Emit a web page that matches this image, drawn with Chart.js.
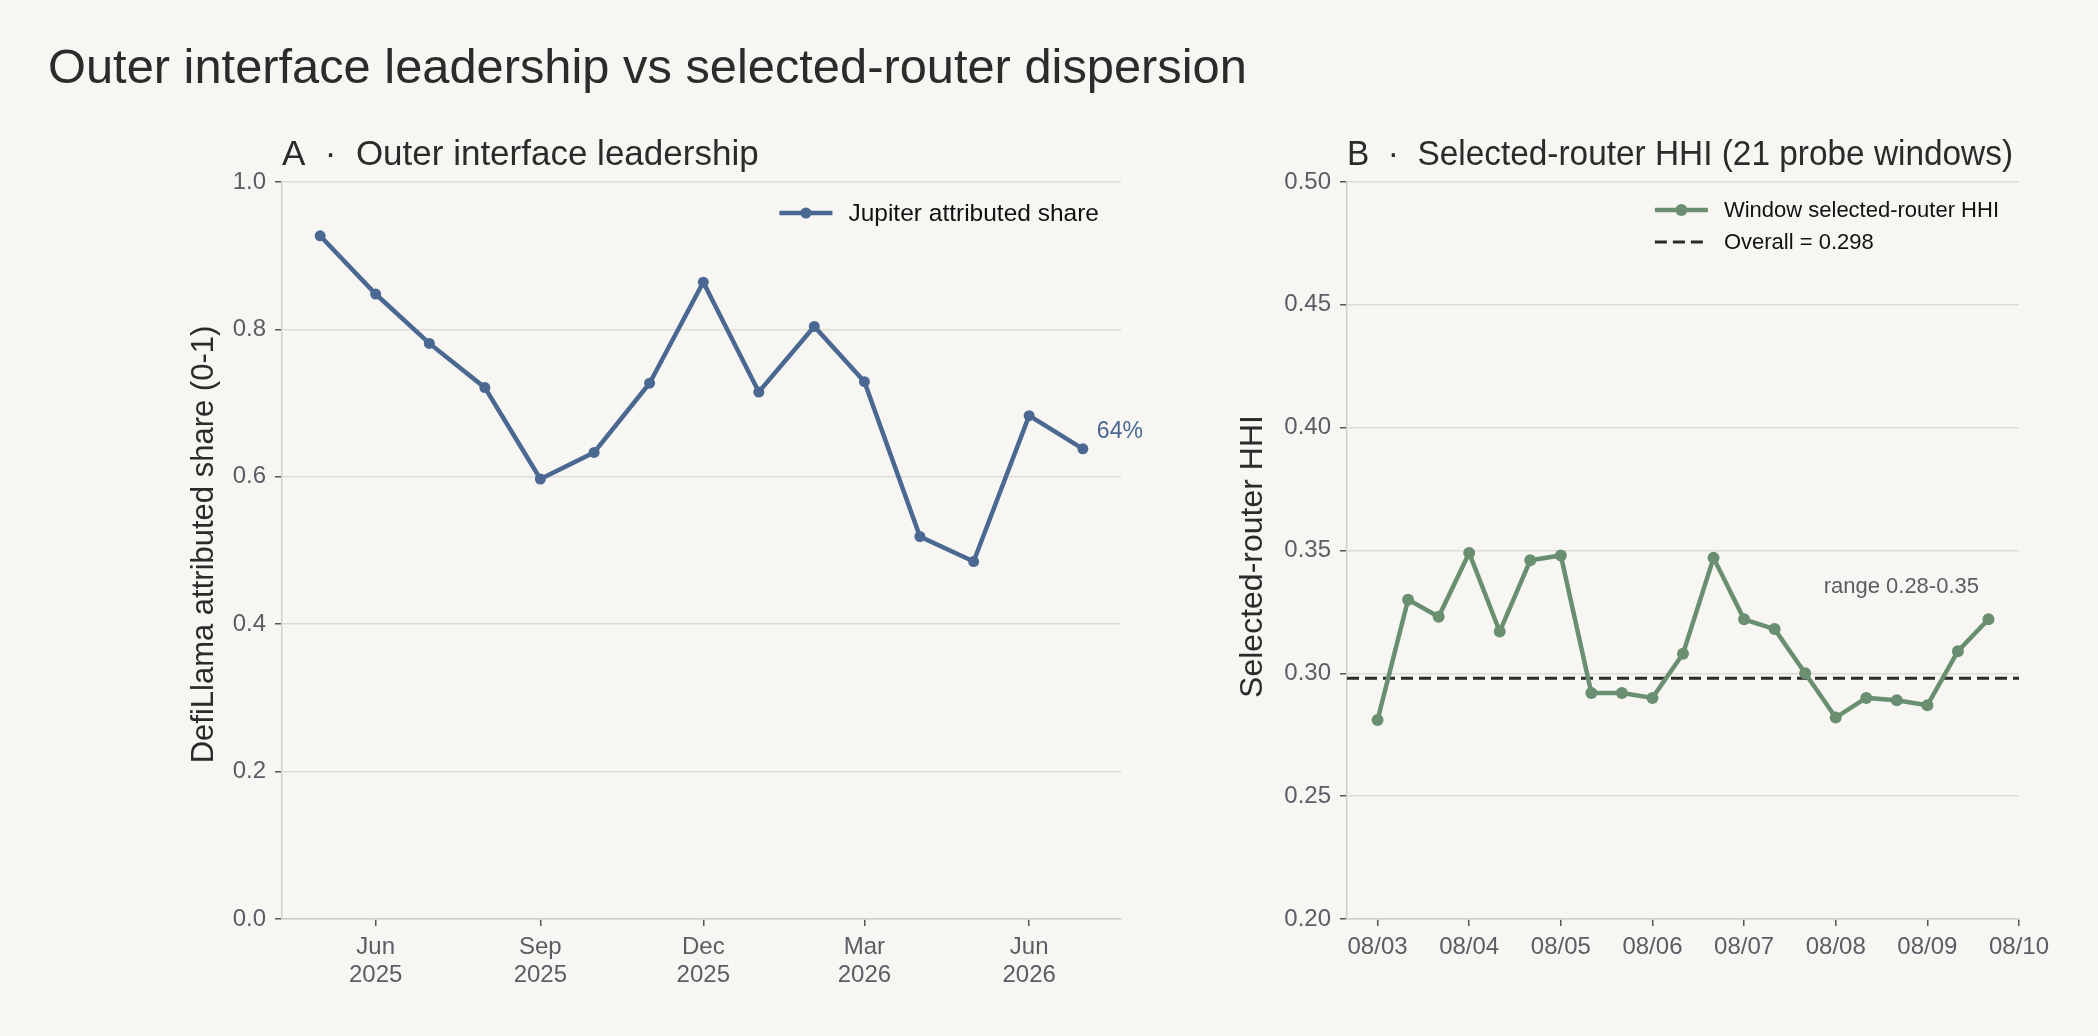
<!DOCTYPE html>
<html><head><meta charset="utf-8">
<script src="https://cdn.jsdelivr.net/npm/chart.js@4.4.1/dist/chart.umd.min.js"></script>
<style>
html,body{margin:0;padding:0;background:#f7f6f2;width:2098px;height:1036px;overflow:hidden;font-family:"Liberation Sans",Arial,sans-serif;}
#title{position:absolute;left:48px;top:42px;font-size:48.8px;line-height:48px;color:#2b2b2b;white-space:nowrap;}
canvas{position:absolute;}
#cA{left:0;top:100px;}
#cB{left:1200px;top:100px;}
</style></head><body>
<div id="title">Outer interface leadership vs selected-router dispersion</div>
<canvas id="cA" width="1200" height="936"></canvas>
<canvas id="cB" width="898" height="936"></canvas>
<script>
// ---- Panel A data ----
const months = ['2025-05','2025-06','2025-07','2025-08','2025-09','2025-10','2025-11','2025-12','2026-01','2026-02','2026-03','2026-04','2026-05','2026-06','2026-07'];
const jupiterShare = [0.927,0.848,0.781,0.721,0.597,0.633,0.727,0.864,0.715,0.804,0.729,0.519,0.485,0.683,0.638];
const monthTicks = ['2025-06','2025-09','2025-12','2026-03','2026-06'];
const monthTickLabels = [['Jun','2025'],['Sep','2025'],['Dec','2025'],['Mar','2026'],['Jun','2026']];
const shareTicks = [0,0.2,0.4,0.6,0.8,1.0];

// ---- Panel B data ----
const windowStarts = ['08/03 00:00','08/03 08:00','08/03 16:00','08/04 00:00','08/04 08:00','08/04 16:00','08/05 00:00',
  '08/05 08:00','08/05 16:00','08/06 00:00','08/06 08:00','08/06 16:00','08/07 00:00','08/07 08:00','08/07 16:00',
  '08/08 00:00','08/08 08:00','08/08 16:00','08/09 00:00','08/09 08:00','08/09 16:00'];
const windowHHI = [0.281,0.330,0.323,0.349,0.317,0.346,0.348,0.292,0.292,0.290,0.308,0.347,0.322,0.318,0.300,0.282,0.290,0.289,0.287,0.309,0.322];
const overallHHI = 0.298;
const dayTicks = ['08/03','08/04','08/05','08/06','08/07','08/08','08/09','08/10'];
const hhiTicks = [0.20,0.25,0.30,0.35,0.40,0.45,0.50];

const FONT = '"Liberation Sans", Arial, sans-serif';
const TEXT = '#2b2b2b', TICK = '#5c5c64', TICKMARK = '#55555a', SPINE = '#d2cfca', GRID = '#dedbd6';
const BLUE = '#4a6891', GREEN = '#6a8f70', DASH = '#2b2b2b';

function toMonthX(s){ const [y,m] = s.split('-').map(Number); return Date.UTC(y,m-1,1)/864e5; }
function dayX(md){ const [mo,d] = md.split('/').map(Number); return (Date.UTC(2025,mo-1,d) - Date.UTC(2025,7,3))/864e5; }
function toWindowX(s){ const [md,hm] = s.split(' '); const [h,mi] = hm.split(':').map(Number); return dayX(md) + h/24 + mi/1440; }

const axA = months.map(toMonthX);
const spanA = axA[axA.length-1]-axA[0];
const xMinA = axA[0]-0.05*spanA, xMaxA = axA[axA.length-1]+0.05*spanA;
const axB = windowStarts.map(toWindowX);
const spanB = axB[axB.length-1]-axB[0];
const xMinB = axB[0]-0.05*spanB, xMaxB = axB[axB.length-1]+0.05*spanB;

const panelPlugin = {
  id: 'panel',
  afterDraw(chart, args, opts){
    const ctx = chart.ctx, ca = chart.chartArea;
    ctx.save();
    // panel title
    ctx.fillStyle = TEXT; ctx.font = '35px ' + FONT; ctx.textBaseline = 'alphabetic'; ctx.textAlign = 'left';
    if (opts.titleMaxWidth) ctx.fillText(opts.title, ca.left, ca.top - 17, opts.titleMaxWidth);
    else ctx.fillText(opts.title, ca.left, ca.top - 17);
    // y-axis title
    ctx.save();
    ctx.translate(opts.yTitleX, (ca.top + ca.bottom)/2 + opts.yTitleDy);
    ctx.rotate(-Math.PI/2);
    ctx.fillStyle = TEXT; ctx.font = opts.yTitleSize + 'px ' + FONT; ctx.textAlign = 'center'; ctx.textBaseline = 'middle';
    ctx.fillText(opts.yTitle, 0, 0);
    ctx.restore();
    // legend
    ctx.font = opts.legendSize + 'px ' + FONT;
    const entries = chart.data.datasets.filter(d => d.showInLegend);
    const tw = Math.max(...entries.map(e => ctx.measureText(e.label).width));
    const textX = ca.right - opts.legendRight - tw;
    const hLen = 53, hGap = 16;
    entries.forEach((e,i) => {
      const y = ca.top + opts.legendTop + i*32;
      ctx.strokeStyle = e.borderColor; ctx.lineWidth = e.borderWidth;
      ctx.setLineDash(e.borderDash || []);
      ctx.beginPath(); ctx.moveTo(textX - hGap - hLen, y); ctx.lineTo(textX - hGap, y); ctx.stroke();
      ctx.setLineDash([]);
      if (e.pointRadius > 0){ ctx.fillStyle = e.borderColor; ctx.beginPath(); ctx.arc(textX - hGap - hLen/2, y, e.pointRadius, 0, Math.PI*2); ctx.fill(); }
      ctx.fillStyle = '#111'; ctx.textBaseline = 'middle'; ctx.textAlign = 'left';
      ctx.fillText(e.label, textX, y + 1);
    });
    // annotation
    if (opts.kind === 'A'){
      const meta = chart.getDatasetMeta(0); const pt = meta.data[meta.data.length-1];
      ctx.fillStyle = BLUE; ctx.font = '23px ' + FONT; ctx.textBaseline = 'middle'; ctx.textAlign = 'left';
      ctx.fillText(Math.round(jupiterShare[jupiterShare.length-1]*100) + '%', pt.x + 14, pt.y - 17);
    } else {
      const lo = Math.min(...windowHHI), hi = Math.max(...windowHHI);
      ctx.fillStyle = TICK; ctx.font = '22px ' + FONT; ctx.textBaseline = 'middle'; ctx.textAlign = 'right';
      ctx.fillText('range ' + lo.toFixed(2) + '-' + hi.toFixed(2), ca.right - 40, chart.scales.y.getPixelForValue(0.335));
    }
    ctx.restore();
  }
};

function xScale(min, max, tickVals, labels, h){
  return {
    type:'linear', min, max,
    afterBuildTicks(s){ s.ticks = tickVals.map(v => ({value:v})); },
    afterFit(s){ s.height = h; },
    ticks:{ callback:(v,i) => labels[i], color:TICK, font:{family:FONT,size:24,lineHeight:1.15}, padding:8, maxRotation:0, autoSkip:false },
    grid:{ drawOnChartArea:false, drawTicks:true, tickLength:7, tickColor:TICKMARK, lineWidth:1.5 },
    border:{ color:SPINE, width:1.5 }
  };
}
function yScale(min, max, tickVals, dec, w){
  return {
    min, max,
    afterBuildTicks(s){ s.ticks = tickVals.map(v => ({value:v})); },
    afterFit(s){ s.width = w; },
    ticks:{ callback:v => Number(v).toFixed(dec), color:TICK, font:{family:FONT,size:24}, padding:9 },
    grid:{ color:GRID, lineWidth:1.5, tickColor:TICKMARK, tickLength:7 },
    border:{ color:SPINE, width:1.5 },
    title:{ display:false }
  };
}

new Chart(document.getElementById('cA'), {
  type:'line',
  data:{ datasets:[{
    label:'Jupiter attributed share', showInLegend:true,
    data: months.map((m,i) => ({x:toMonthX(m), y:jupiterShare[i]})),
    borderColor:BLUE, backgroundColor:BLUE, borderWidth:4.5, pointRadius:5.5, pointHoverRadius:5.5, pointBorderWidth:0, tension:0
  }]},
  options:{
    responsive:false, animation:false, devicePixelRatio:1,
    layout:{ padding:{left:185, top:82, right:79, bottom:0} },
    plugins:{ legend:{display:false}, tooltip:{enabled:false}, title:{display:false},
      panel:{ kind:'A', title:'A  ·  Outer interface leadership', legendRight:22, legendTop:31, legendSize:24.5,
              yTitle:'DefiLlama attributed share (0-1)', yTitleSize:31, yTitleX:204, yTitleDy:-6 } },
    scales:{
      x: xScale(xMinA, xMaxA, monthTicks.map(toMonthX), monthTickLabels, 117),
      y: yScale(0, 1, shareTicks, 1, 97)
    }
  },
  plugins:[panelPlugin]
});

new Chart(document.getElementById('cB'), {
  type:'line',
  data:{ datasets:[{
    label:'Window selected-router HHI', showInLegend:true,
    data: windowStarts.map((s,i) => ({x:toWindowX(s), y:windowHHI[i]})),
    borderColor:GREEN, backgroundColor:GREEN, borderWidth:4.5, pointRadius:6, pointHoverRadius:6, pointBorderWidth:0, tension:0
  },{
    label:'Overall = ' + overallHHI.toFixed(3), showInLegend:true,
    data:[{x:xMinB, y:overallHHI},{x:xMaxB, y:overallHHI}],
    borderColor:DASH, backgroundColor:DASH, borderWidth:3, borderDash:[12,6], pointRadius:0, pointHoverRadius:0, tension:0
  }]},
  options:{
    responsive:false, animation:false, devicePixelRatio:1,
    layout:{ padding:{left:34, top:82, right:79, bottom:0} },
    plugins:{ legend:{display:false}, tooltip:{enabled:false}, title:{display:false},
      panel:{ kind:'B', title:'B  ·  Selected-router HHI (21 probe windows)', titleMaxWidth:666, legendRight:20, legendTop:28, legendSize:22,
              yTitle:'Selected-router HHI', yTitleSize:32, yTitleX:53, yTitleDy:6 } },
    scales:{
      x: xScale(xMinB, xMaxB, dayTicks.map(dayX), dayTicks, 117),
      y: yScale(0.2, 0.5, hhiTicks, 2, 113)
    }
  },
  plugins:[panelPlugin]
});
</script>
</body></html>
